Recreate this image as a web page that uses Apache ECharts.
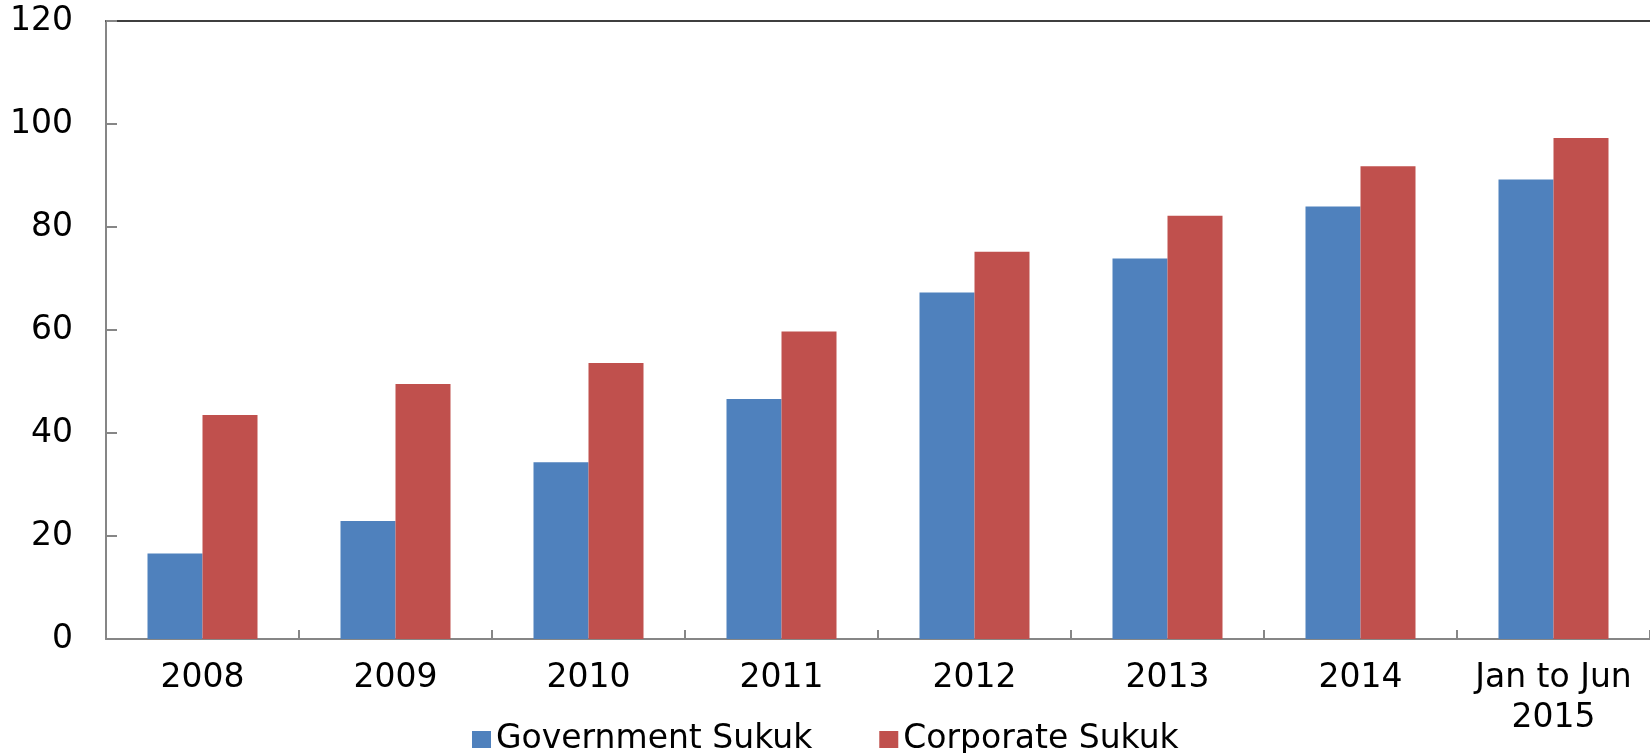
<!DOCTYPE html>
<html>
<head>
<meta charset="utf-8">
<title>Sukuk issuance</title>
<script src="https://cdn.jsdelivr.net/npm/echarts@6/dist/echarts.min.js"></script>
<style>
  html, body { margin: 0; padding: 0; background: #ffffff; }
  #chart { width: 1650px; height: 753px; }
</style>
</head>
<body>
<div id="chart"></div>
<script>
// Periods on the horizontal axis
const categories = ['2008', '2009', '2010', '2011', '2012', '2013', '2014', 'Jan to Jun\n2015'];

// Series values
const governmentSukuk = [16.6, 22.9, 34.3, 46.6, 67.3, 73.9, 84.0, 89.2];
const corporateSukuk = [43.5, 49.5, 53.6, 59.7, 75.2, 82.2, 91.8, 97.3];

// Value axis range
const yMin = 0;
const yMax = 120;
const yStep = 20;

const FONT = 'DejaVu Sans';
const FONT_SIZE = 33;
const AXIS_GREY = '#868686';

const chart = echarts.init(document.getElementById('chart'), null, { renderer: 'canvas' });

chart.setOption({
  backgroundColor: '#ffffff',
  animation: false,
  grid: { left: 106, right: -3, top: 21, bottom: 114, containLabel: false },
  legend: {
    data: ['Government Sukuk', 'Corporate Sukuk'],
    left: 472,
    top: 723,
    padding: 0,
    itemWidth: 19,
    itemHeight: 17,
    itemGap: 67,
    icon: 'rect',
    textStyle: { fontFamily: FONT, fontSize: FONT_SIZE, color: '#000000' }
  },
  xAxis: [
    {
      type: 'category',
      data: categories,
      position: 'bottom',
      axisLine: { lineStyle: { color: AXIS_GREY, width: 2 } },
      axisTick: { show: true, inside: true, length: 9, lineStyle: { color: AXIS_GREY, width: 2 } },
      axisLabel: {
        fontFamily: FONT,
        fontSize: FONT_SIZE,
        color: '#000000',
        margin: 19,
        lineHeight: 40,
        interval: 0
      }
    },
    {
      // frame line along the top of the plot
      type: 'category',
      data: categories,
      position: 'top',
      axisLine: { lineStyle: { color: '#000000', width: 1.5 } },
      axisTick: { show: false },
      axisLabel: { show: false }
    }
  ],
  yAxis: {
    type: 'value',
    min: yMin,
    max: yMax,
    interval: yStep,
    axisLine: { show: true, lineStyle: { color: AXIS_GREY, width: 2 } },
    axisTick: { show: true, inside: true, length: 11, lineStyle: { color: AXIS_GREY, width: 2 } },
    splitLine: { show: false },
    axisLabel: { fontFamily: FONT, fontSize: FONT_SIZE, color: '#000000', margin: 33 }
  },
  series: [
    {
      name: 'Government Sukuk',
      type: 'bar',
      data: governmentSukuk,
      barWidth: 55,
      barGap: '0%',
      itemStyle: { color: '#4F81BD' }
    },
    {
      name: 'Corporate Sukuk',
      type: 'bar',
      data: corporateSukuk,
      barWidth: 55,
      barGap: '0%',
      itemStyle: { color: '#C0504D' }
    }
  ]
});
</script>
</body>
</html>
